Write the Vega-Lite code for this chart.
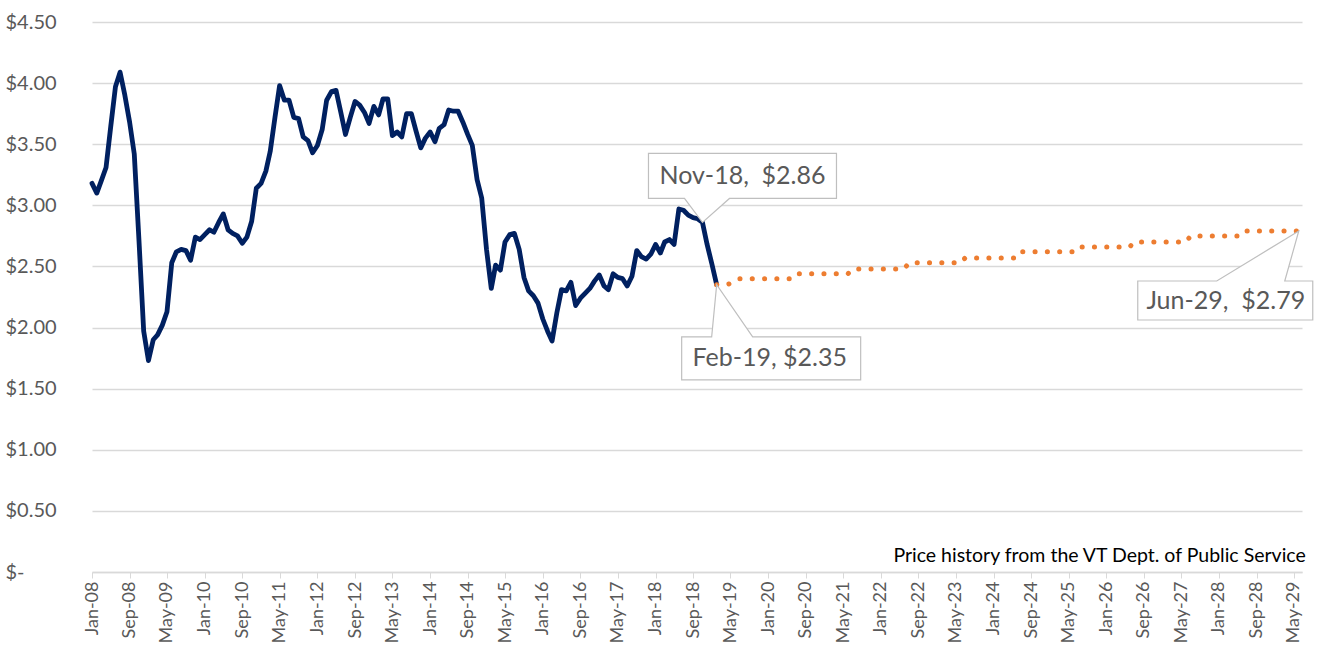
{
"$schema": "https://vega.github.io/schema/vega-lite/v6.json",
"width": 1210,
"height": 550,
"autosize": {"type": "none"},
"padding": {"left": 92, "top": 22, "right": 20, "bottom": 88},
"background": "white",
"config": {"view": {"stroke": null}, "font": "Lato"},
"datasets": {
"history": [
{"month":"2008-01-01","price":3.18},{"month":"2008-02-01","price":3.10},{"month":"2008-03-01","price":3.20},{"month":"2008-04-01","price":3.31},{"month":"2008-05-01","price":3.64},{"month":"2008-06-01","price":3.97},{"month":"2008-07-01","price":4.09},{"month":"2008-08-01","price":3.90},{"month":"2008-09-01","price":3.68},{"month":"2008-10-01","price":3.42},{"month":"2008-11-01","price":2.70},{"month":"2008-12-01","price":1.97},
{"month":"2009-01-01","price":1.73},{"month":"2009-02-01","price":1.90},{"month":"2009-03-01","price":1.94},{"month":"2009-04-01","price":2.02},{"month":"2009-05-01","price":2.13},{"month":"2009-06-01","price":2.53},{"month":"2009-07-01","price":2.62},{"month":"2009-08-01","price":2.64},{"month":"2009-09-01","price":2.63},{"month":"2009-10-01","price":2.55},{"month":"2009-11-01","price":2.74},{"month":"2009-12-01","price":2.72},
{"month":"2010-01-01","price":2.76},{"month":"2010-02-01","price":2.80},{"month":"2010-03-01","price":2.78},{"month":"2010-04-01","price":2.86},{"month":"2010-05-01","price":2.93},{"month":"2010-06-01","price":2.80},{"month":"2010-07-01","price":2.77},{"month":"2010-08-01","price":2.75},{"month":"2010-09-01","price":2.69},{"month":"2010-10-01","price":2.74},{"month":"2010-11-01","price":2.87},{"month":"2010-12-01","price":3.14},
{"month":"2011-01-01","price":3.18},{"month":"2011-02-01","price":3.28},{"month":"2011-03-01","price":3.44},{"month":"2011-04-01","price":3.72},{"month":"2011-05-01","price":3.98},{"month":"2011-06-01","price":3.86},{"month":"2011-07-01","price":3.86},{"month":"2011-08-01","price":3.72},{"month":"2011-09-01","price":3.71},{"month":"2011-10-01","price":3.56},{"month":"2011-11-01","price":3.53},{"month":"2011-12-01","price":3.43},
{"month":"2012-01-01","price":3.49},{"month":"2012-02-01","price":3.62},{"month":"2012-03-01","price":3.86},{"month":"2012-04-01","price":3.93},{"month":"2012-05-01","price":3.94},{"month":"2012-06-01","price":3.76},{"month":"2012-07-01","price":3.58},{"month":"2012-08-01","price":3.72},{"month":"2012-09-01","price":3.85},{"month":"2012-10-01","price":3.82},{"month":"2012-11-01","price":3.76},{"month":"2012-12-01","price":3.67},
{"month":"2013-01-01","price":3.81},{"month":"2013-02-01","price":3.74},{"month":"2013-03-01","price":3.87},{"month":"2013-04-01","price":3.87},{"month":"2013-05-01","price":3.57},{"month":"2013-06-01","price":3.60},{"month":"2013-07-01","price":3.56},{"month":"2013-08-01","price":3.75},{"month":"2013-09-01","price":3.75},{"month":"2013-10-01","price":3.61},{"month":"2013-11-01","price":3.47},{"month":"2013-12-01","price":3.55},
{"month":"2014-01-01","price":3.60},{"month":"2014-02-01","price":3.52},{"month":"2014-03-01","price":3.63},{"month":"2014-04-01","price":3.66},{"month":"2014-05-01","price":3.78},{"month":"2014-06-01","price":3.77},{"month":"2014-07-01","price":3.77},{"month":"2014-08-01","price":3.68},{"month":"2014-09-01","price":3.58},{"month":"2014-10-01","price":3.49},{"month":"2014-11-01","price":3.21},{"month":"2014-12-01","price":3.06},
{"month":"2015-01-01","price":2.64},{"month":"2015-02-01","price":2.32},{"month":"2015-03-01","price":2.51},{"month":"2015-04-01","price":2.47},{"month":"2015-05-01","price":2.70},{"month":"2015-06-01","price":2.76},{"month":"2015-07-01","price":2.77},{"month":"2015-08-01","price":2.64},{"month":"2015-09-01","price":2.41},{"month":"2015-10-01","price":2.30},{"month":"2015-11-01","price":2.26},{"month":"2015-12-01","price":2.20},
{"month":"2016-01-01","price":2.07},{"month":"2016-02-01","price":1.97},{"month":"2016-03-01","price":1.89},{"month":"2016-04-01","price":2.12},{"month":"2016-05-01","price":2.31},{"month":"2016-06-01","price":2.30},{"month":"2016-07-01","price":2.37},{"month":"2016-08-01","price":2.18},{"month":"2016-09-01","price":2.24},{"month":"2016-10-01","price":2.28},{"month":"2016-11-01","price":2.32},{"month":"2016-12-01","price":2.38},
{"month":"2017-01-01","price":2.43},{"month":"2017-02-01","price":2.34},{"month":"2017-03-01","price":2.31},{"month":"2017-04-01","price":2.44},{"month":"2017-05-01","price":2.41},{"month":"2017-06-01","price":2.40},{"month":"2017-07-01","price":2.34},{"month":"2017-08-01","price":2.42},{"month":"2017-09-01","price":2.63},{"month":"2017-10-01","price":2.58},{"month":"2017-11-01","price":2.56},{"month":"2017-12-01","price":2.60},
{"month":"2018-01-01","price":2.68},{"month":"2018-02-01","price":2.61},{"month":"2018-03-01","price":2.70},{"month":"2018-04-01","price":2.72},{"month":"2018-05-01","price":2.68},{"month":"2018-06-01","price":2.97},{"month":"2018-07-01","price":2.96},{"month":"2018-08-01","price":2.92},{"month":"2018-09-01","price":2.90},{"month":"2018-10-01","price":2.89},{"month":"2018-11-01","price":2.86},{"month":"2018-12-01","price":2.68},
{"month":"2019-01-01","price":2.52},{"month":"2019-02-01","price":2.35}
],
"forecast": [
{"month":"2019-02-01","price":2.35},{"month":"2019-03-01","price":2.35},{"month":"2019-04-01","price":2.35},{"month":"2019-05-01","price":2.36},{"month":"2019-06-01","price":2.38},
{"month":"2019-07-01","price":2.40},{"month":"2019-08-01","price":2.40},{"month":"2019-09-01","price":2.40},{"month":"2019-10-01","price":2.40},{"month":"2019-11-01","price":2.40},{"month":"2019-12-01","price":2.40},{"month":"2020-01-01","price":2.40},{"month":"2020-02-01","price":2.40},{"month":"2020-03-01","price":2.40},{"month":"2020-04-01","price":2.40},{"month":"2020-05-01","price":2.40},{"month":"2020-06-01","price":2.40},
{"month":"2020-07-01","price":2.44},{"month":"2020-08-01","price":2.44},{"month":"2020-09-01","price":2.44},{"month":"2020-10-01","price":2.44},{"month":"2020-11-01","price":2.44},{"month":"2020-12-01","price":2.44},{"month":"2021-01-01","price":2.44},{"month":"2021-02-01","price":2.44},{"month":"2021-03-01","price":2.44},{"month":"2021-04-01","price":2.44},{"month":"2021-05-01","price":2.44},{"month":"2021-06-01","price":2.44},
{"month":"2021-07-01","price":2.48},{"month":"2021-08-01","price":2.48},{"month":"2021-09-01","price":2.48},{"month":"2021-10-01","price":2.48},{"month":"2021-11-01","price":2.48},{"month":"2021-12-01","price":2.48},{"month":"2022-01-01","price":2.48},{"month":"2022-02-01","price":2.48},{"month":"2022-03-01","price":2.48},{"month":"2022-04-01","price":2.48},{"month":"2022-05-01","price":2.48},{"month":"2022-06-01","price":2.48},
{"month":"2022-07-01","price":2.53},{"month":"2022-08-01","price":2.53},{"month":"2022-09-01","price":2.53},{"month":"2022-10-01","price":2.53},{"month":"2022-11-01","price":2.53},{"month":"2022-12-01","price":2.53},{"month":"2023-01-01","price":2.53},{"month":"2023-02-01","price":2.53},{"month":"2023-03-01","price":2.53},{"month":"2023-04-01","price":2.53},{"month":"2023-05-01","price":2.53},{"month":"2023-06-01","price":2.53},
{"month":"2023-07-01","price":2.57},{"month":"2023-08-01","price":2.57},{"month":"2023-09-01","price":2.57},{"month":"2023-10-01","price":2.57},{"month":"2023-11-01","price":2.57},{"month":"2023-12-01","price":2.57},{"month":"2024-01-01","price":2.57},{"month":"2024-02-01","price":2.57},{"month":"2024-03-01","price":2.57},{"month":"2024-04-01","price":2.57},{"month":"2024-05-01","price":2.57},{"month":"2024-06-01","price":2.57},
{"month":"2024-07-01","price":2.62},{"month":"2024-08-01","price":2.62},{"month":"2024-09-01","price":2.62},{"month":"2024-10-01","price":2.62},{"month":"2024-11-01","price":2.62},{"month":"2024-12-01","price":2.62},{"month":"2025-01-01","price":2.62},{"month":"2025-02-01","price":2.62},{"month":"2025-03-01","price":2.62},{"month":"2025-04-01","price":2.62},{"month":"2025-05-01","price":2.62},{"month":"2025-06-01","price":2.62},
{"month":"2025-07-01","price":2.66},{"month":"2025-08-01","price":2.66},{"month":"2025-09-01","price":2.66},{"month":"2025-10-01","price":2.66},{"month":"2025-11-01","price":2.66},{"month":"2025-12-01","price":2.66},{"month":"2026-01-01","price":2.66},{"month":"2026-02-01","price":2.66},{"month":"2026-03-01","price":2.66},{"month":"2026-04-01","price":2.66},{"month":"2026-05-01","price":2.66},{"month":"2026-06-01","price":2.66},
{"month":"2026-07-01","price":2.70},{"month":"2026-08-01","price":2.70},{"month":"2026-09-01","price":2.70},{"month":"2026-10-01","price":2.70},{"month":"2026-11-01","price":2.70},{"month":"2026-12-01","price":2.70},{"month":"2027-01-01","price":2.70},{"month":"2027-02-01","price":2.70},{"month":"2027-03-01","price":2.70},{"month":"2027-04-01","price":2.70},{"month":"2027-05-01","price":2.70},{"month":"2027-06-01","price":2.70},
{"month":"2027-07-01","price":2.75},{"month":"2027-08-01","price":2.75},{"month":"2027-09-01","price":2.75},{"month":"2027-10-01","price":2.75},{"month":"2027-11-01","price":2.75},{"month":"2027-12-01","price":2.75},{"month":"2028-01-01","price":2.75},{"month":"2028-02-01","price":2.75},{"month":"2028-03-01","price":2.75},{"month":"2028-04-01","price":2.75},{"month":"2028-05-01","price":2.75},{"month":"2028-06-01","price":2.75},
{"month":"2028-07-01","price":2.79},{"month":"2028-08-01","price":2.79},{"month":"2028-09-01","price":2.79},{"month":"2028-10-01","price":2.79},{"month":"2028-11-01","price":2.79},{"month":"2028-12-01","price":2.79},{"month":"2029-01-01","price":2.79},{"month":"2029-02-01","price":2.79},{"month":"2029-03-01","price":2.79},{"month":"2029-04-01","price":2.79},{"month":"2029-05-01","price":2.79},{"month":"2029-06-01","price":2.79}
],
"callouts": [
{"month":"2018-11-01","price":2.86,"label":"Nov-18,\u00a0 $2.86","key":"nov"},
{"month":"2019-02-01","price":2.35,"label":"Feb-19, $2.35","key":"feb"},
{"month":"2029-06-01","price":2.79,"label":"Jun-29,\u00a0 $2.79","key":"jun"}
]
},
"encoding": {
"x": {"field": "month", "type": "temporal",
"scale": {"type": "utc", "domain": [1199145600000, 1876780800000]},
"axis": {
"values": [1199145600000,1220227200000,1241136000000,1262304000000,1283299200000,1304208000000,1325376000000,1346457600000,1367366400000,1388534400000,1409529600000,1430438400000,1451606400000,1472688000000,1493596800000,1514764800000,1535760000000,1556668800000,1577836800000,1598918400000,1619827200000,1640995200000,1661990400000,1682899200000,1704067200000,1725148800000,1746057600000,1767225600000,1788220800000,1809129600000,1830297600000,1851379200000,1872288000000],
"labelExpr": "utcFormat(datum.value, '%b-%y')",
"labelAngle": 270, "labelFontSize": 18, "labelColor": "#595959",
"labelFont": "Lato", "tickSize": 6, "tickColor": "#d9d9d9", "domainColor": "#d9d9d9", "domainWidth": 1.5,
"grid": false, "title": null, "labelPadding": 3, "labelOverlap": false, "labelFlush": false, "labelBound": false
}
},
"y": {"field": "price", "type": "quantitative",
"scale": {"domain": [0, 4.5], "nice": false},
"axis": {
"values": [0, 0.5, 1, 1.5, 2, 2.5, 3, 3.5, 4, 4.5],
"labelExpr": "datum.value == 0 ? '$-' : '$' + format(datum.value, '.2f')",
"ticks": false, "tickSize": 0, "domain": false, "grid": true, "gridColor": "#d9d9d9", "gridWidth": 1.3,
"labelAlign": "left", "labelPadding": 87, "labelFontSize": 20, "labelColor": "#595959", "labelFont": "Lato", "title": null
}
}
},
"layer": [
{
"data": {"name": "history"},
"mark": {"type": "line", "color": "#002060", "strokeWidth": 4.8, "strokeJoin": "round", "strokeCap": "round"}
},
{
"data": {"name": "forecast"},
"mark": {"type": "line", "color": "#ED7D31", "strokeWidth": 5, "strokeCap": "round", "strokeDash": [0.1, 12.2]}
},
{
"data": {"name": "callouts"},
"transform": [{"filter": "datum.key == 'nov'"}],
"mark": {"type": "point", "shape": "M-0.54,-0.69L1.34,-0.69L1.34,-0.24L0.27,-0.24L0,0L-0.18,-0.24L-0.54,-0.24Z", "size": 40000, "filled": true, "fill": "white", "stroke": "#bfbfbf", "strokeWidth": 1.2, "opacity": 1}
},
{
"data": {"name": "callouts"},
"transform": [{"filter": "datum.key == 'nov'"}],
"mark": {"type": "text", "dx": 40, "dy": -46, "fontSize": 25, "color": "#595959", "align": "center", "baseline": "middle", "font": "Lato"},
"encoding": {"text": {"field": "label"}}
},
{
"data": {"name": "callouts"},
"transform": [{"filter": "datum.key == 'feb'"}],
"mark": {"type": "point", "shape": "M-0.35,0.52L-0.05,0.52L0,0L0.36,0.52L1.44,0.52L1.44,0.95L-0.35,0.95Z", "size": 40000, "filled": true, "fill": "white", "stroke": "#bfbfbf", "strokeWidth": 1.2, "opacity": 1}
},
{
"data": {"name": "callouts"},
"transform": [{"filter": "datum.key == 'feb'"}],
"mark": {"type": "text", "dx": 53, "dy": 73, "fontSize": 25, "color": "#595959", "align": "center", "baseline": "middle", "font": "Lato"},
"encoding": {"text": {"field": "label"}}
},
{
"data": {"name": "callouts"},
"transform": [{"filter": "datum.key == 'jun'"}],
"mark": {"type": "point", "shape": "M-1.61,0.5L-0.82,0.5L0,0L-0.14,0.5L0.14,0.5L0.14,0.89L-1.61,0.89Z", "size": 40000, "filled": true, "fill": "white", "stroke": "#bfbfbf", "strokeWidth": 1.2, "opacity": 1}
},
{
"data": {"name": "callouts"},
"transform": [{"filter": "datum.key == 'jun'"}],
"mark": {"type": "text", "dx": -73, "dy": 70, "fontSize": 25, "color": "#595959", "align": "center", "baseline": "middle", "font": "Lato"},
"encoding": {"text": {"field": "label"}}
},
{
"data": {"name": "callouts"},
"transform": [{"filter": "datum.key == 'jun'"}],
"mark": {"type": "text", "text": "Price history from the VT Dept. of Public Service", "align": "right", "baseline": "middle", "dx": 7, "dy": 325, "fontSize": 19.5, "color": "#000000", "font": "Lato"}
}
]
}
